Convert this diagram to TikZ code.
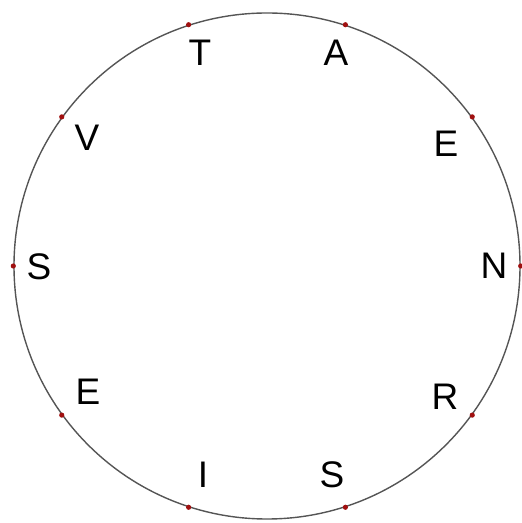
\documentclass[tikz,border=0pt]{standalone}
\usepackage{fontspec}
\setmainfont{Liberation Sans}
\definecolor{ringGray}{HTML}{555555}
\definecolor{dotRed}{HTML}{A01010}
\begin{document}
\begin{tikzpicture}[x=0.5pt, y=0.5pt,
    ring/.style={draw=ringGray, line width=0.7pt, circle, minimum size=253pt, inner sep=0pt},
    dot/.style={fill=dotRed, circle, inner sep=0pt, minimum size=2.6pt},
    letter/.style={font=\fontsize{18.5}{20}\selectfont, inner sep=0pt}]
  \useasboundingbox (-267,-257) rectangle (254,266);
  \node[ring] (ring) at (0,0) {};
  % points on the ring, every 36 degrees
  \foreach \ang [count=\i] in {72,36,0,-36,-72,-108,-144,180,144,108}
    \node[dot] (p\i) at (ring.\ang) {};
  % letters inside the ring
  \foreach \px/\py/\txt [count=\i] in {69/213/A,179/122/E,227/0/N,178/-131/R,65/-209/S,
      -64/-209/I,-179/-126/E,-228/-1/S,-180/128/V,-67/213/T}
    \node[letter] (l\i) at (\px,\py) {\txt};
\end{tikzpicture}
\end{document}
